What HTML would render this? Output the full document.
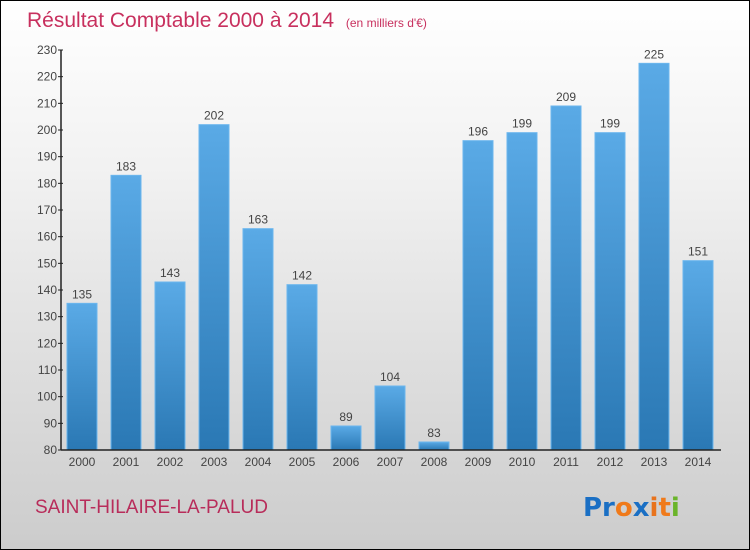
<!DOCTYPE html>
<html><head><meta charset="utf-8"><style>
body{margin:0;}
#wrap{position:relative;width:748px;height:548px;border:1px solid #000;background:linear-gradient(#ffffff,#f2f2f2 30%,#cccccc);font-family:"Liberation Sans",sans-serif;overflow:hidden}
</style></head><body>
<div id="wrap">
<svg id="chart" width="750" height="550" style="position:absolute;left:-1px;top:-1px">
<defs>
<linearGradient id="bg" x1="0" y1="0" x2="0" y2="1"><stop offset="0" stop-color="#5aaae6"/><stop offset="1" stop-color="#2a78b4"/></linearGradient>
</defs>
<text x="27" y="27" font-size="21" fill="#c8305e">Résultat Comptable 2000 à 2014 <tspan font-size="12" dx="6">(en milliers d'€)</tspan></text>
<text x="35" y="513" font-size="19" fill="#b82c5a">SAINT-HILAIRE-LA-PALUD</text>
<g font-size="26" font-weight="bold" font-family="'DejaVu Sans',sans-serif">
<text x="583" y="516"><tspan fill="#1a6fc4">Pr</tspan><tspan fill="#f07a1a">o</tspan><tspan fill="#1a6fc4">x</tspan><tspan fill="#e8731c">i</tspan><tspan fill="#f07a1a">t</tspan><tspan fill="#6ab42a">i</tspan></text>
</g>
<g id="plot"></g>
</svg>
</div>
<script>
const categories=["2000","2001","2002","2003","2004","2005","2006","2007","2008","2009","2010","2011","2012","2013","2014"];
const values=[135,183,143,202,163,142,89,104,83,196,199,209,199,225,151];
const yTicks=[80,90,100,110,120,130,140,150,160,170,180,190,200,210,220,230];
const ns="http://www.w3.org/2000/svg";
const g=document.getElementById('plot');
const yMin=80,yMax=230,y0=450,y1=50,xL=61,xR=721;
function y(v){return y0-(v-yMin)/(yMax-yMin)*(y0-y1);}
function x(i){return 82+i*44;}
function mk(t,a){const e=document.createElementNS(ns,t);for(const k in a)e.setAttribute(k,a[k]);g.appendChild(e);return e;}
values.forEach((v,i)=>{
 const r=mk('rect',{x:x(i)-15,y:y(v),width:30,height:y0-y(v),fill:'url(#bg)',stroke:'#6bb6ee','stroke-width':1});
 
 
 const t=mk('text',{x:x(i),y:y(v)-5,'text-anchor':'middle','font-size':12,fill:'#444'});
 t.textContent=v;
 
 
 const c=mk('text',{x:x(i),y:466,'text-anchor':'middle','font-size':12,fill:'#444'});
 c.textContent=categories[i];
 
 
});
yTicks.forEach(v=>{
 mk('line',{x1:xL-3,x2:xL+2,y1:y(v),y2:y(v),stroke:'#222'});
 const t=mk('text',{x:xL-4,y:y(v)+4,'text-anchor':'end','font-size':12,fill:'#444'});
 t.textContent=v;
 
 
});
const ya=mk('line',{x1:xL,x2:xL,y1:y1,y2:y0,stroke:'#222','stroke-width':1.5});


const xa=mk('line',{x1:xL,x2:xR,y1:y0,y2:y0,stroke:'#222','stroke-width':1.5});


</script>
</body></html>
